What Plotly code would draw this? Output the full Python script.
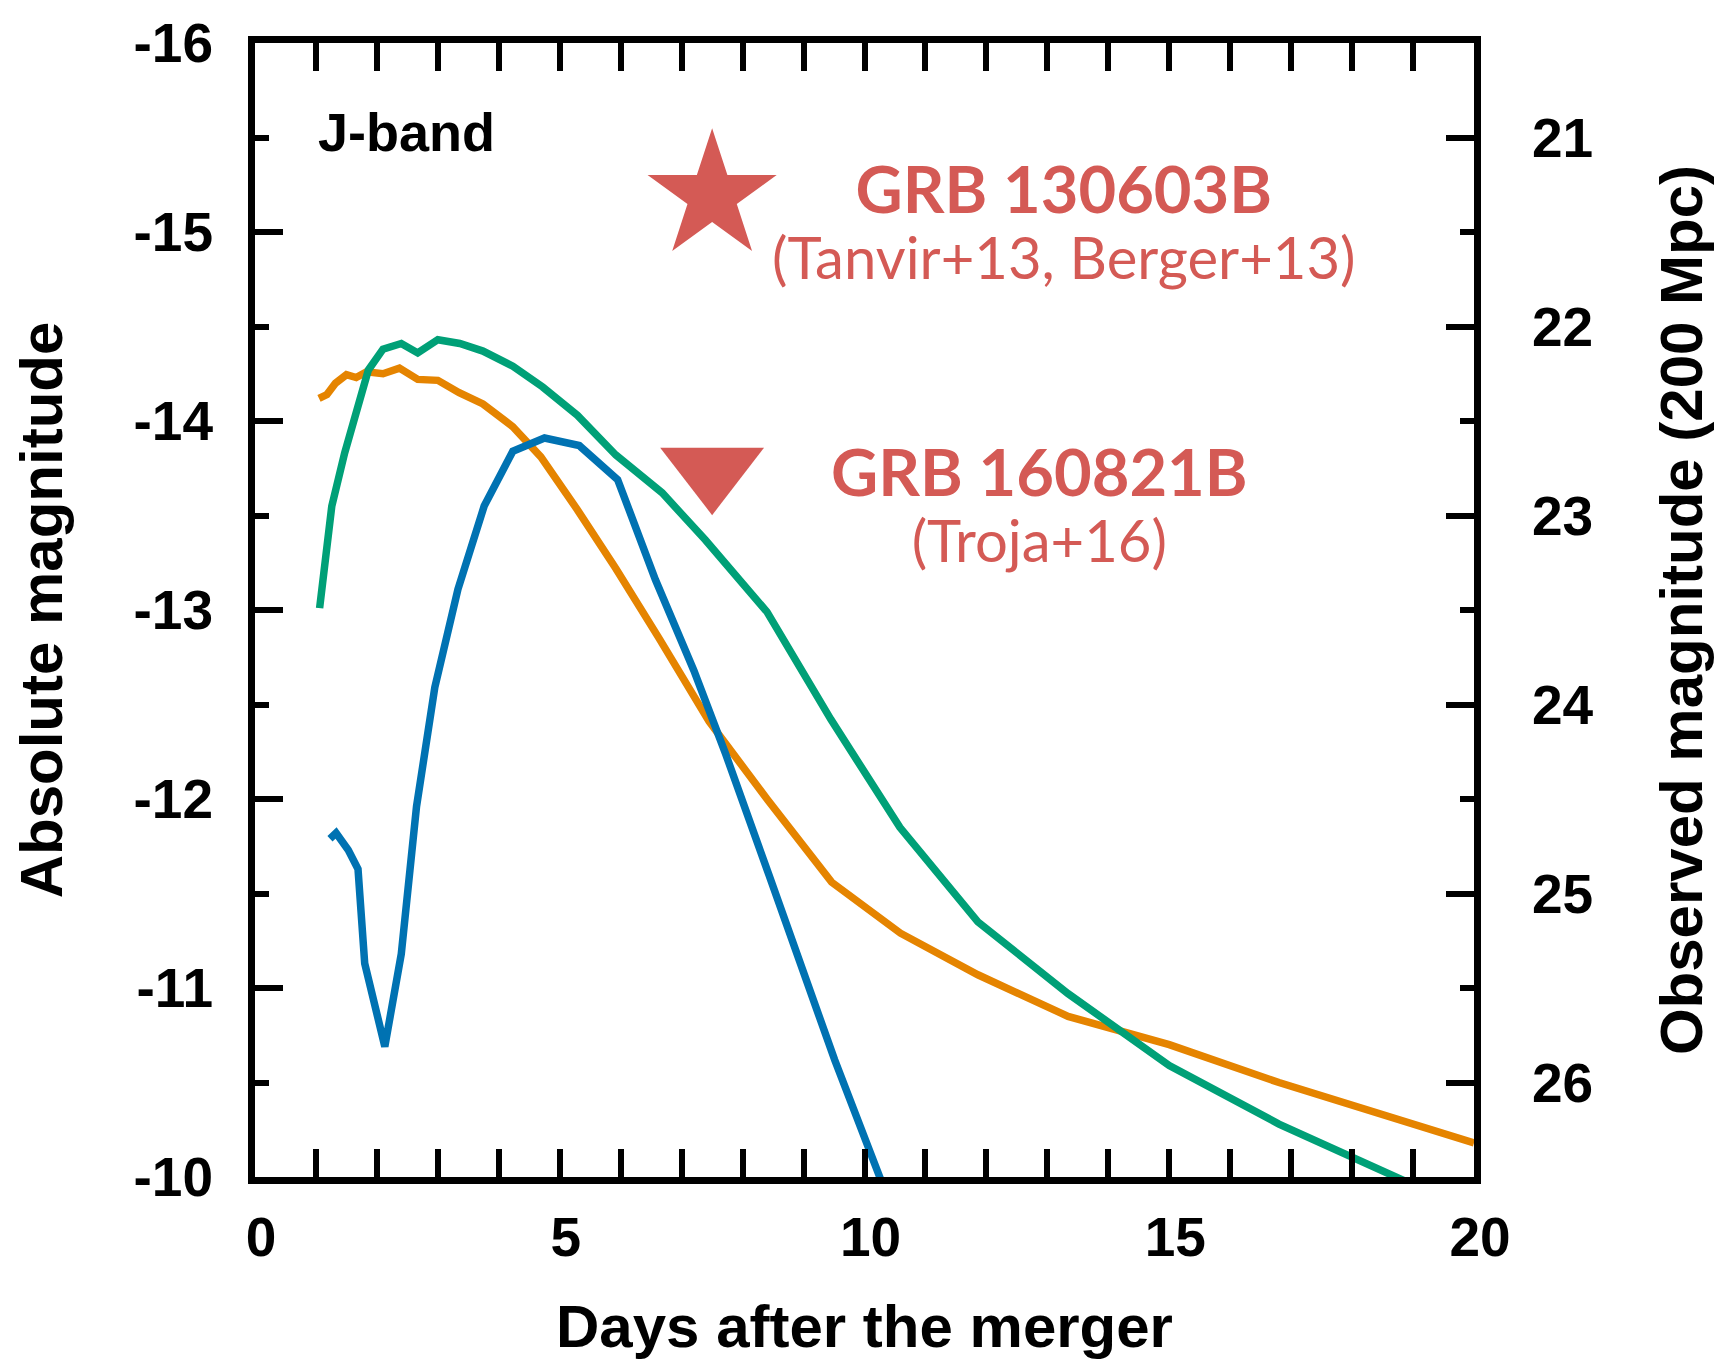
import plotly.graph_objects as go

# ---------------- data ----------------
# orange model light curve
orange_days = [1.05, 1.18, 1.32, 1.50, 1.66, 1.83, 2.10, 2.37, 2.67, 3.00, 3.35, 3.74,
               4.23, 4.69, 5.29, 5.92, 6.63, 7.45, 8.40, 9.46, 10.59, 11.86, 13.34,
               15.0, 16.8, 18.76, 20.0]
orange_mag = [-14.12, -14.14, -14.20, -14.245, -14.23, -14.26, -14.25, -14.28, -14.22,
              -14.215, -14.15, -14.09, -13.97, -13.81, -13.53, -13.22, -12.85, -12.41,
              -12.00, -11.56, -11.29, -11.07, -10.85, -10.70, -10.50, -10.30, -10.18]

# green model light curve
green_days = [1.06, 1.15, 1.26, 1.47, 1.66, 1.86, 2.10, 2.40, 2.67, 3.00, 3.36, 3.74,
              4.23, 4.72, 5.29, 5.92, 6.68, 7.39, 8.40, 9.45, 10.58, 11.86, 13.34,
              15.0, 16.8, 18.65, 19.2]
green_mag = [-13.01, -13.23, -13.55, -13.83, -14.06, -14.27, -14.38, -14.41, -14.36,
             -14.43, -14.41, -14.37, -14.29, -14.18, -14.03, -13.82, -13.62, -13.37,
             -12.99, -12.42, -11.85, -11.35, -10.97, -10.59, -10.28, -10.01, -9.93]

# blue model light curve
blue_days = [1.23, 1.33, 1.53, 1.69, 1.80, 2.13, 2.40, 2.65, 2.95, 3.33, 3.76, 4.23,
             4.75, 5.32, 5.95, 6.57, 7.20, 7.72, 8.43, 8.97, 9.51, 10.25, 10.45]
blue_mag = [-11.79, -11.82, -11.73, -11.63, -11.13, -10.69, -11.18, -11.96, -12.59,
            -13.11, -13.55, -13.84, -13.91, -13.87, -13.69, -13.16, -12.68, -12.24,
            -11.60, -11.12, -10.62, -10.00, -9.84]

# observed GRB kilonova candidates
grb_names = ["GRB 130603B", "GRB 160821B"]
grb_refs = ["(Tanvir+13, Berger+13)", "(Troja+16)"]
grb_days = [7.5, 7.5]
grb_mags = [-15.19, -13.74]

# axes
x_tickvals = [0, 5, 10, 15, 20]
x_ticktext = ["0", "5", "10", "15", "20"]
y_tickvals = [-16, -15, -14, -13, -12, -11, -10]
y_ticktext = ["-16", "-15", "-14", "-13", "-12", "-11", "-10"]
y2_tickvals = [21, 22, 23, 24, 25, 26]
y2_ticktext = ["21", "22", "23", "24", "25", "26"]
DIST_MOD = 36.5  # 200 Mpc

ORANGE = "#E58400"
GREEN = "#00A077"
BLUE = "#0072B2"
RED = "#D45A55"

BOLD = "Liberation Sans, Arial, Helvetica, sans-serif"
CAL = "Lato, Open Sans, sans-serif"

fig = go.Figure()
for xs, ys, col in [(orange_days, orange_mag, ORANGE), (green_days, green_mag, GREEN),
                    (blue_days, blue_mag, BLUE)]:
    fig.add_trace(go.Scatter(x=xs, y=ys, mode="lines", line=dict(color=col, width=7.5),
                             showlegend=False, hoverinfo="skip"))

fig.add_trace(go.Scatter(x=[grb_days[0]], y=[grb_mags[0]], mode="markers",
                         marker=dict(symbol="star", size=97, color=RED, line=dict(width=0)),
                         showlegend=False))
fig.add_trace(go.Scatter(x=[grb_days[1]], y=[grb_mags[1]], mode="markers",
                         marker=dict(symbol="triangle-down", size=90, color=RED, line=dict(width=0)),
                         showlegend=False))
# trace on the right (observed magnitude) axis so it is drawn
fig.add_trace(go.Scatter(x=[None], y=[None], yaxis="y2", mode="lines", showlegend=False))

tickfont = dict(family=BOLD, size=55, color="black", weight="bold")
titlefont = dict(family=BOLD, size=60, color="black", weight="bold")

common = dict(showgrid=False, zeroline=False, showline=True, linecolor="black", linewidth=7,
              ticks="inside", ticklen=28, tickwidth=5.5, tickcolor="black", tickfont=tickfont)
minor_common = dict(ticks="inside", ticklen=14, tickwidth=5.5, tickcolor="black", showgrid=False)

fig.update_layout(
    width=1722, height=1362,
    margin=dict(l=255, r=248, t=32, b=183),
    plot_bgcolor="white", paper_bgcolor="white",
    showlegend=False,
    xaxis=dict(range=[0, 20], tickmode="array", tickvals=x_tickvals, ticktext=x_ticktext,
               mirror="allticks", ticklabelstandoff=6, ticklabelshift=6,
               minor=dict(tickmode="linear", tick0=0, dtick=1, **minor_common),
               title=dict(text="Days after the merger", font=titlefont, standoff=40),
               **common),
    yaxis=dict(range=[-10, -16], tickmode="array", tickvals=y_tickvals, ticktext=y_ticktext,
               mirror=False, ticklabelstandoff=24,
               minor=dict(tickmode="linear", tick0=-16, dtick=0.5, **minor_common),
               title=dict(text="Absolute magnitude", font=titlefont, standoff=54),
               **common),
    yaxis2=dict(range=[-10 + DIST_MOD, -16 + DIST_MOD], overlaying="y", side="right",
                tickmode="array", tickvals=y2_tickvals, ticktext=y2_ticktext,
                ticklabelstandoff=40,
                minor=dict(tickmode="linear", tick0=20.5, dtick=0.5, **minor_common),
                title=dict(text="Observed magnitude (200 Mpc)", font=titlefont, standoff=70),
                **common),
)

fig.add_annotation(x=1.0, y=-15.53, xref="x", yref="y", text="J-band", showarrow=False,
                   xanchor="left", yanchor="middle",
                   font=dict(family=BOLD, size=54, color="black", weight="bold"))

label_pos = [(13.27, -15.065), (12.87, -13.565)]
for name, ref, (lx, ly) in zip(grb_names, grb_refs, label_pos):
    txt = ("<span style='font-size:65px'><b>" + name + "</b></span><br>"
           "<span style='font-size:58px'>" + ref + "</span>")
    fig.add_annotation(x=lx, y=ly, xref="x", yref="y", text=txt, showarrow=False,
                       xanchor="center", yanchor="middle", align="center",
                       font=dict(family=CAL, size=51, color=RED))

fig.write_html("out.html")
